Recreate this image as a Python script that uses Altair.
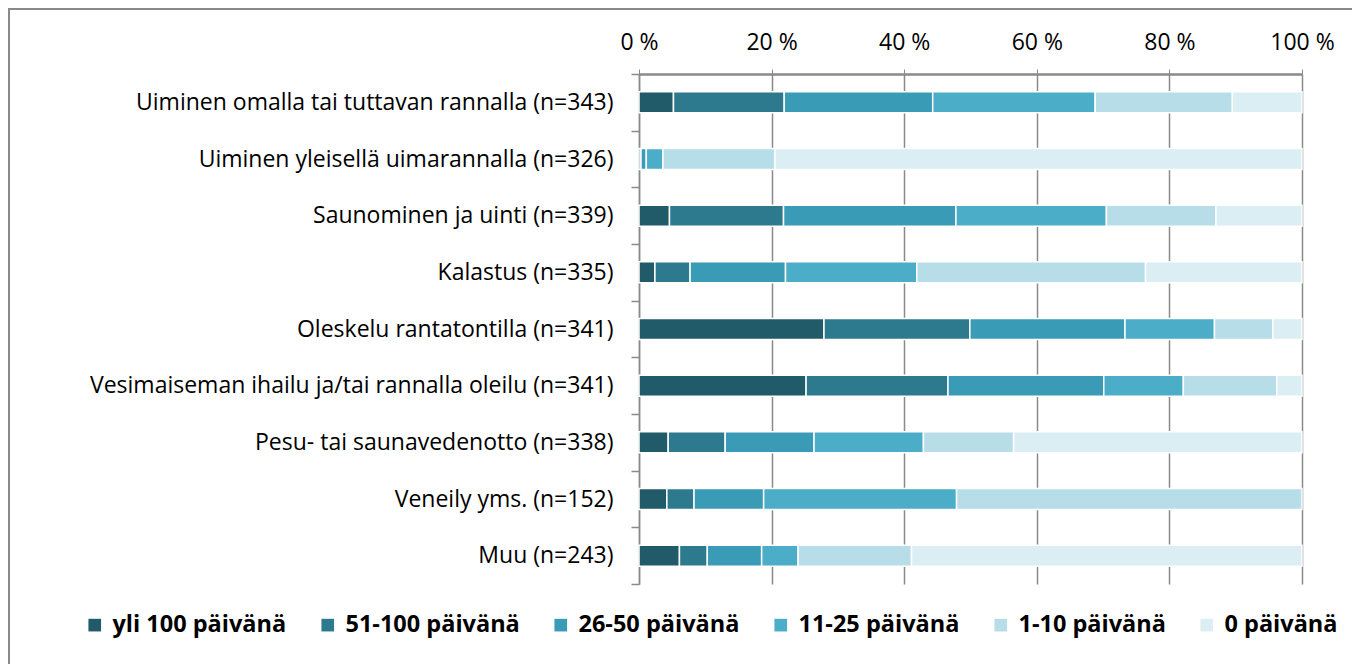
import altair as alt
import pandas as pd

categories = [
    "Uiminen omalla tai tuttavan rannalla (n=343)",
    "Uiminen yleisellä uimarannalla (n=326)",
    "Saunominen ja uinti (n=339)",
    "Kalastus (n=335)",
    "Oleskelu rantatontilla (n=341)",
    "Vesimaiseman ihailu ja/tai rannalla oleilu (n=341)",
    "Pesu- tai saunavedenotto (n=338)",
    "Veneily yms. (n=152)",
    "Muu (n=243)",
]
series = ["yli 100 päivänä", "51-100 päivänä", "26-50 päivänä",
          "11-25 päivänä", "1-10 päivänä", "0 päivänä"]

yli_100 = [5.2, 0.0, 4.6, 2.4, 27.9, 25.2, 4.4, 4.2, 6.1]
d51_100 = [16.7, 0.3, 17.2, 5.3, 22.0, 21.4, 8.6, 4.1, 4.2]
d26_50 = [22.4, 0.8, 26.0, 14.4, 23.4, 23.5, 13.4, 10.5, 8.2]
d11_25 = [24.5, 2.5, 22.7, 19.8, 13.5, 12.0, 16.5, 29.1, 5.5]
d1_10 = [20.7, 16.9, 16.5, 34.5, 8.8, 14.1, 13.6, 52.1, 17.1]
d0 = [10.5, 79.5, 13.0, 23.6, 4.4, 3.8, 43.5, 0.0, 58.9]

colors = ["#215a69", "#2d798e", "#3a9bb7", "#4badc7", "#b7dde8", "#dbeef3"]
x_ticks = [0, 0.2, 0.4, 0.6, 0.8, 1.0]

rows = []
for si, vals in enumerate([yli_100, d51_100, d26_50, d11_25, d1_10, d0]):
    for ci, v in enumerate(vals):
        if v > 0:
            rows.append({"cat": categories[ci], "series": series[si], "idx": si, "value": v})
df = pd.DataFrame(rows)

FONT = "Open Sans"
GRAY = "#8a8a8a"

bars = alt.Chart(df).mark_bar(size=21, stroke="white", strokeWidth=1.5).encode(
    x=alt.X(
        "value:Q",
        stack="normalize",
        scale=alt.Scale(domain=[0, 1], nice=False),
        axis=alt.Axis(
            orient="top",
            values=x_ticks,
            labelExpr="round(datum.value*100) + ' %'",
            labelFlush=False,
            title=None,
            grid=True,
            gridColor=GRAY,
            gridWidth=1.5,
            domainColor=GRAY,
            domainWidth=2.5,
            tickColor=GRAY,
            tickSize=5,
            labelPadding=15,
            labelFont=FONT,
            labelFontSize=23,
            labelColor="black",
        ),
    ),
    y=alt.Y(
        "cat:N",
        sort=categories,
        scale=alt.Scale(paddingInner=0, paddingOuter=0),
        axis=alt.Axis(
            title=None,
            tickBand="extent",
            tickSize=8,
            tickColor=GRAY,
            tickWidth=1.5,
            domainColor=GRAY,
            domainWidth=1.5,
            labelPadding=18,
            labelFont=FONT,
            labelFontSize=23,
            labelColor="black",
            labelLimit=700,
            grid=False,
        ),
    ),
    color=alt.Color(
        "series:N",
        scale=alt.Scale(domain=series, range=colors),
        legend=alt.Legend(
            title=None,
            orient="none",
            legendX=-556,
            legendY=539,
            direction="horizontal",
            columns=6,
            columnPadding=29,
            symbolType="square",
            symbolSize=160,
            symbolStrokeWidth=0,
            labelFont=FONT,
            labelFontSize=23.5,
            labelFontWeight="bold",
            labelColor="black",
            labelOffset=6,
            labelLimit=400,
        ),
    ),
    order=alt.Order("idx:Q"),
)

frame = alt.Chart(alt.Data(values=[{}])).mark_rect(
    fill="white", fillOpacity=0, stroke=GRAY, strokeWidth=2
).encode(
    x=alt.value(-630),
    x2=alt.value(760),
    y=alt.value(-65),
    y2=alt.value(700),
)

chart = alt.layer(frame, bars).properties(
    width=663,
    height=510,
    padding={"left": 631, "top": 66, "right": 50, "bottom": 80},
    autosize=alt.AutoSizeParams(type="none"),
).configure_view(stroke=None)

chart.save("out.html", embed_options={"renderer": "svg", "actions": False})
